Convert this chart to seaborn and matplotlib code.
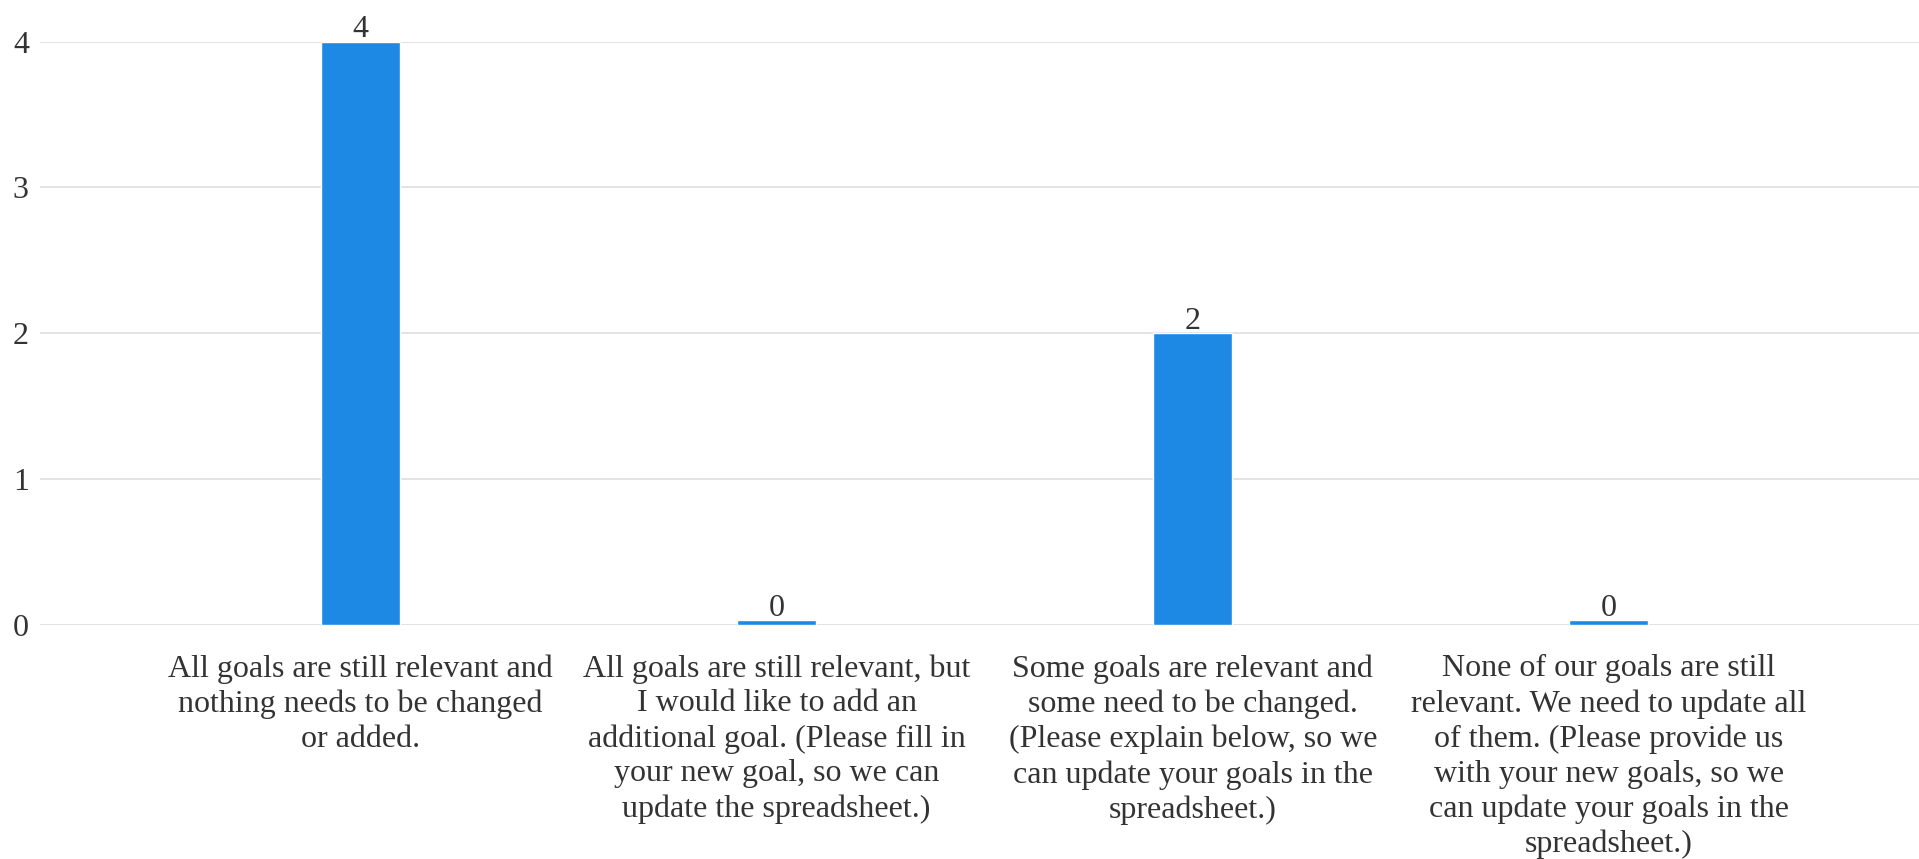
import matplotlib
matplotlib.use("Agg")
import matplotlib.pyplot as plt
import seaborn as sns
import pandas as pd

categories = [
    "All goals are still relevant and\nnothing needs to be changed\nor added.",
    "All goals are still relevant, but\nI would like to add an\nadditional goal. (Please fill in\nyour new goal, so we can\nupdate the spreadsheet.)",
    "Some goals are relevant and\nsome need to be changed.\n(Please explain below, so we\ncan update your goals in the\nspreadsheet.)",
    "None of our goals are still\nrelevant. We need to update all\nof them. (Please provide us\nwith your new goals, so we\ncan update your goals in the\nspreadsheet.)",
]
values = [4, 0, 2, 0]
yticks = [0, 1, 2, 3, 4]

BAR = "#1E88E5"
TXT = "#333333"
GRID = "#E0E0E0"
FONT = ["Liberation Serif", "DejaVu Serif"]
FS = 23

sns.set_theme(style="white")
plt.rcParams["font.family"] = FONT

min_vis = 0.035
df = pd.DataFrame({"cat": categories,
                   "val": values,
                   "draw": [max(v, min_vis) for v in values]})

fig = plt.figure(figsize=(19.19, 8.59), dpi=100)
ax = fig.add_axes([40 / 1919, 234 / 859, 1 - 40 / 1919, (817.4 - 234) / 859])

sns.barplot(data=df, x="cat", y="draw", color=BAR, saturation=1,
            width=0.19, ax=ax, zorder=3)

for i, (v, d) in enumerate(zip(values, df["draw"])):
    ax.annotate(str(v), (i, d), xytext=(0, 3), textcoords="offset points",
                ha="center", va="baseline", fontsize=FS, color=TXT,
                annotation_clip=False)

ax.set_ylim(0, 4)
ax.set_xlim(-0.770, 3.745)
ax.set_yticks(yticks)
ax.set_yticklabels([str(t) for t in yticks])
ax.yaxis.grid(True, color=GRID, linewidth=1.3)
ax.set_axisbelow(True)
for s in ax.spines.values():
    s.set_visible(False)
ax.tick_params(axis="y", length=0, pad=8, labelsize=FS, labelcolor=TXT)
ax.tick_params(axis="x", length=0, pad=21, labelsize=FS, labelcolor=TXT)
for lab in ax.get_xticklabels():
    lab.set_linespacing(1.26)
ax.set_xlabel("")
ax.set_ylabel("")

fig.savefig("out.png", dpi=100)
